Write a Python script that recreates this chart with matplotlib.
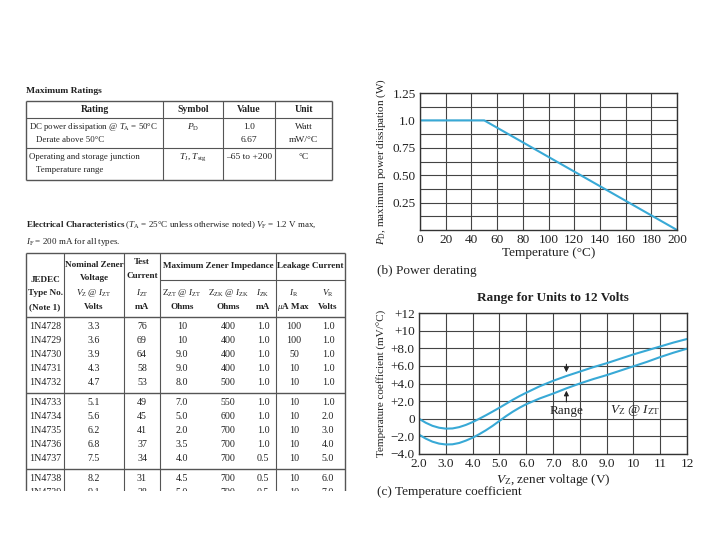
import numpy as np
import matplotlib
matplotlib.use('Agg')
import matplotlib.pyplot as plt

plt.rcParams['font.family'] = ['Liberation Serif', 'DejaVu Serif']
plt.rcParams['mathtext.fontset'] = 'custom'
plt.rcParams['mathtext.rm'] = 'Liberation Serif'
plt.rcParams['mathtext.it'] = 'Liberation Serif:italic'
plt.rcParams['mathtext.bf'] = 'Liberation Serif:bold'

#-----------------------------------------------------------------------------------------------------------
# Data

# Maximum ratings table
rating_header = ['Rating', 'Symbol', 'Value', 'Unit']
rating_col1 = [['DC power dissipation @ $T_{\\mathrm{A}}$ = 50°C', 'Derate above 50°C'],
               ['Operating and storage junction', 'Temperature range']]
rating_col2 = [['$P_{\\mathrm{D}}$'], ['$T_{\\mathrm{J}}$, $T_{\\mathrm{stg}}$']]
rating_col3 = [['1.0', '6.67'], ['–65 to +200']]
rating_col4 = [['Watt', 'mW/°C'], ['°C']]

# Electrical characteristics table
jedec = ['1N4728', '1N4729', '1N4730', '1N4731', '1N4732', '1N4733',
         '1N4734', '1N4735', '1N4736', '1N4737', '1N4738', '1N4739']
vz = ['3.3', '3.6', '3.9', '4.3', '4.7', '5.1', '5.6', '6.2', '6.8', '7.5', '8.2', '9.1']
izt = ['76', '69', '64', '58', '53', '49', '45', '41', '37', '34', '31', '28']
zzt = ['10', '10', '9.0', '9.0', '8.0', '7.0', '5.0', '2.0', '3.5', '4.0', '4.5', '5.0']
zzk = ['400', '400', '400', '400', '500', '550', '600', '700', '700', '700', '700', '700']
izk = ['1.0', '1.0', '1.0', '1.0', '1.0', '1.0', '1.0', '1.0', '1.0', '0.5', '0.5', '0.5']
ir = ['100', '100', '50', '10', '10', '10', '10', '10', '10', '10', '10', '10']
vr = ['1.0', '1.0', '1.0', '1.0', '1.0', '1.0', '2.0', '3.0', '4.0', '5.0', '6.0', '7.0']

# Power derating curve
temp_c = [0, 50, 200]
power_w = [1.0, 1.0, 0.0]

# Temperature coefficient curves
vz_axis = [2.0, 2.25, 2.5, 2.75, 3.0, 3.25, 3.5, 3.75, 4.0, 4.25, 4.5, 4.75, 5.0, 5.25, 5.5,
           5.75, 6.0, 6.5, 7.0, 7.5, 8.0, 8.5, 9.0, 9.5, 10.0, 10.5, 11.0, 11.5, 12.0]
tc_upper = [0.0, -0.45, -0.8, -1.02, -1.12, -1.1, -0.95, -0.7, -0.38, 0.0, 0.4, 0.82, 1.25, 1.7, 2.15,
            2.57, 2.95, 3.68, 4.3, 4.85, 5.35, 5.85, 6.3, 6.8, 7.3, 7.75, 8.2, 8.65, 9.05]
tc_lower = [-1.8, -2.25, -2.6, -2.82, -2.92, -2.9, -2.75, -2.48, -2.15, -1.75, -1.3, -0.8, -0.25, 0.3, 0.8,
            1.25, 1.65, 2.3, 2.85, 3.45, 4.0, 4.5, 4.95, 5.45, 5.95, 6.45, 7.0, 7.5, 7.95]

#-----------------------------------------------------------------------------------------------------------
# Figure and table overlay (pixel coordinates)

fig = plt.figure(figsize=(7.2, 5.4), dpi=100)
fig.patch.set_facecolor('white')

tab = fig.add_axes([0, 1 - 491 / 540, 1, 491 / 540])
tab.set_xlim(0, 720)
tab.set_ylim(491, 0)
tab.axis('off')

line_col = '#555555'
txt_col = '#222222'
fs = 6.6

def hline(y, x0, x1, lw=0.8):
    tab.plot([x0, x1], [y, y], color=line_col, lw=lw, solid_capstyle='butt')

def vline(x, y0, y1, lw=0.8):
    tab.plot([x, x], [y0, y1], color=line_col, lw=lw, solid_capstyle='butt')

def put(x, y, s, ha='center', bold=False, size=fs):
    tab.text(x, y, s, ha=ha, va='center', fontsize=size, color=txt_col,
             fontweight='bold' if bold else 'normal', clip_on=True)

# Maximum ratings
put(26, 91, 'Maximum Ratings', ha='left', bold=True, size=6.8)
rx = [26, 163, 223, 275, 332]
ry = [101, 118, 148, 180]
for y in ry:
    hline(y, rx[0], rx[-1], lw=1.0 if y in (ry[0], ry[-1]) else 0.8)
for x in rx:
    vline(x, ry[0], ry[-1], lw=1.0 if x in (rx[0], rx[-1]) else 0.8)
rcent = [(rx[i] + rx[i + 1]) / 2 for i in range(4)]
for i, h in enumerate(rating_header):
    put(rcent[i], 109.5, h, bold=True, size=7)
row_tops = [127, 157]
for r in range(2):
    for k, s in enumerate(rating_col1[r]):
        put(29 if k == 0 else 36, row_tops[r] + 13 * k, s, ha='left', size=6.4)
    for c, col in enumerate([rating_col2, rating_col3, rating_col4]):
        for k, s in enumerate(col[r]):
            put(rcent[c + 1], row_tops[r] + 13 * k, s, size=6.8)

# Electrical characteristics
put(26, 225, '$\\mathbf{Electrical\\ Characteristics}$ ($T_{\\mathrm{A}}$ = 25°C unless otherwise noted) '
    '$V_{\\mathrm{F}}$ = 1.2 V max,', ha='left', size=6.5)
put(26, 242, '$I_{\\mathrm{F}}$ = 200 mA for all types.', ha='left', size=6.5)

ex = [26, 64, 124, 160, 276, 345]
top, head_bot = 253, 317
hline(top, ex[0], ex[-1], lw=1.0)
hline(280, ex[3], ex[-1])
hline(head_bot, ex[0], ex[-1], lw=1.0)
for x in ex:
    vline(x, top, 495, lw=1.0 if x in (ex[0], ex[-1]) else 0.8)

for s, y in zip(['JEDEC', 'Type No.', '(Note 1)'], [280, 293, 307]):
    put(45, y, s, bold=True)
for s, y, b in zip(['Nominal Zener', 'Voltage', '$V_{\\mathrm{Z}}$ @ $I_{\\mathrm{ZT}}$', 'Volts'],
                   [265, 278, 293, 307], [True, True, False, True]):
    put(94, y, s, bold=b)
for s, y, b in zip(['Test', 'Current', '$I_{\\mathrm{ZT}}$', 'mA'],
                   [262, 276, 293, 307], [True, True, False, True]):
    put(142, y, s, bold=b)
put(218, 266, 'Maximum Zener Impedance', bold=True)
put(310, 266, 'Leakage Current', bold=True)

col_x = [45, 94, 142, 182, 228, 263, 294, 328]
sub_heads = [['$\\mathrm{Z}_{\\mathrm{ZT}}$ @ $I_{\\mathrm{ZT}}$', 'Ohms'],
             ['$\\mathrm{Z}_{\\mathrm{ZK}}$ @ $I_{\\mathrm{ZK}}$', 'Ohms'],
             ['$I_{\\mathrm{ZK}}$', 'mA'],
             ['$I_{\\mathrm{R}}$', '$\\mu$A Max'],
             ['$V_{\\mathrm{R}}$', 'Volts']]
for j, sh in enumerate(sub_heads):
    put(col_x[3 + j], 293, sh[0])
    put(col_x[3 + j], 307, sh[1], bold=True)

columns = [jedec, vz, izt, zzt, zzk, izk, ir, vr]
y = head_bot + 10
for i in range(len(jedec)):
    if i > 0 and i % 5 == 0:
        sep = y - 14 + 10
        hline(sep, ex[0], ex[-1], lw=1.0)
        y = sep + 10
    for c, col in enumerate(columns):
        put(col_x[c], y, col[i], size=7.2)
    y += 14

#-----------------------------------------------------------------------------------------------------------
# Charts

curve_col = '#38a9d6'
grid_col = '#444444'

def style(ax):
    for sp in ax.spines.values():
        sp.set_color('#333333')
        sp.set_linewidth(1.0)
    ax.tick_params(which='both', length=0, labelsize=9.5, pad=3, colors='#222222')
    ax.grid(which='both', color=grid_col, lw=0.8)
    ax.set_axisbelow(True)

# (b) Power derating
ax1 = fig.add_axes([420 / 720, 1 - 230 / 540, 257 / 720, 137 / 540])
ax1.plot(temp_c, power_w, color=curve_col, lw=1.5)
ax1.set_xlim(0, 200)
ax1.set_ylim(0, 1.25)
ax1.set_xticks(np.arange(0, 201, 20))
ax1.set_yticks([0.25, 0.5, 0.75, 1.0, 1.25])
ax1.set_yticklabels(['0.25', '0.50', '0.75', '1.0', '1.25'])
ax1.set_yticks(np.arange(0.125, 1.25, 0.25), minor=True)
style(ax1)
ax1.set_xlabel('Temperature (°C)', fontsize=9.5, color='#222222')
ax1.xaxis.set_label_coords(0.5, -0.125)
ax1.set_ylabel('$P_{\\mathrm{D}}$, maximum power dissipation (W)', fontsize=8, color='#222222')
ax1.yaxis.set_label_coords(-0.125, 0.5)
fig.text(377 / 720, 1 - 271 / 540, '(b) Power derating', fontsize=9.5, va='center', color='#222222')

# (c) Temperature coefficient
ax2 = fig.add_axes([419 / 720, 1 - 454 / 540, 268 / 720, 141 / 540])
ax2.plot(vz_axis, tc_upper, color=curve_col, lw=1.5)
ax2.plot(vz_axis, tc_lower, color=curve_col, lw=1.5)
ax2.set_xlim(2, 12)
ax2.set_ylim(-4, 12)
ax2.set_xticks(np.arange(2, 13, 1))
ax2.set_xticklabels(['2.0', '3.0', '4.0', '5.0', '6.0', '7.0', '8.0', '9.0', '10', '11', '12'])
ax2.set_yticks(np.arange(-4, 13, 2))
ax2.set_yticklabels(['−4.0', '−2.0', '0', '+2.0', '+4.0', '+6.0', '+8.0', '+10', '+12'])
style(ax2)
ax2.annotate('', xy=(7.5, 4.95), xytext=(7.5, 6.5),
             arrowprops=dict(arrowstyle='-|>', color='#222222', lw=0.8, mutation_scale=7))
ax2.annotate('', xy=(7.5, 3.5), xytext=(7.5, 1.6),
             arrowprops=dict(arrowstyle='-|>', color='#222222', lw=0.8, mutation_scale=7))
ax2.text(7.5, 0.9, 'Range', ha='center', va='center', fontsize=9.5, color='#222222')
ax2.text(10.05, 0.9, '$V_{\\mathrm{Z}}$ @ $I_{\\mathrm{ZT}}$', ha='center', va='center',
         fontsize=9.5, color='#222222')
ax2.set_title('Range for Units to 12 Volts', fontsize=9.5, fontweight='bold', pad=9, color='#222222')
ax2.set_xlabel('$V_{\\mathrm{Z}}$, zener voltage (V)', fontsize=9.5, color='#222222')
ax2.xaxis.set_label_coords(0.5, -0.125)
ax2.set_ylabel('Temperature coefficient (mV/°C)', fontsize=8, color='#222222')
ax2.yaxis.set_label_coords(-0.118, 0.5)
fig.text(377 / 720, 1 - 492 / 540, '(c) Temperature coefficient', fontsize=9.5, va='center', color='#222222')

fig.savefig('out.png', dpi=100, facecolor='white')
